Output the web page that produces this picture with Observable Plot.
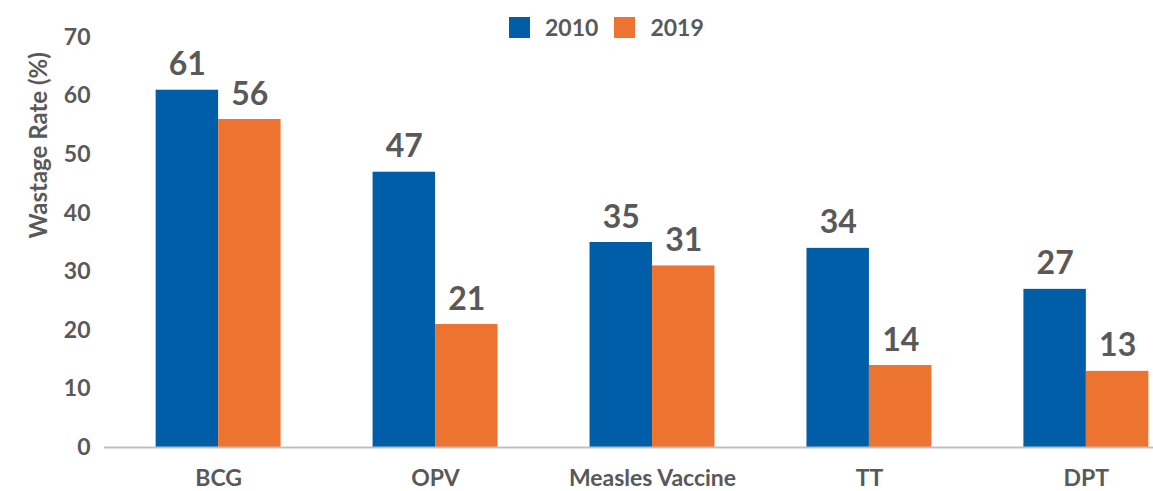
<!DOCTYPE html>
<html><head><meta charset="utf-8">
<script src="https://cdn.jsdelivr.net/npm/d3@7"></script>
<script src="https://cdn.jsdelivr.net/npm/@observablehq/plot@0.6"></script>
<style>
body{margin:0;background:#fff;}
#wrap{position:relative;width:1153px;height:491px;font-family:Lato,sans-serif;}
#legend{position:absolute;top:16px;left:509px;display:flex;align-items:center;font-weight:bold;font-size:23px;color:#595959;line-height:22px;}
#legend .sw{width:21px;height:21px;margin-right:15px;}
#legend .lab{margin-right:16px;}
</style></head>
<body><div id="wrap"><div id="legend"></div></div>
<script>
const categories = ["BCG", "OPV", "Measles Vaccine", "TT", "DPT"];
const years = ["2010", "2019"];
const values2010 = [61, 47, 35, 34, 27];
const values2019 = [56, 21, 31, 14, 13];
const colors = ["#005EA8", "#ED7331"];
const yTicks = [0, 10, 20, 30, 40, 50, 60, 70];

const data = categories.flatMap((c, i) => [
  {cat: c, year: years[0], value: values2010[i]},
  {cat: c, year: years[1], value: values2019[i]}
]);
const d2010 = data.filter(d => d.year === years[0]);
const d2019 = data.filter(d => d.year === years[1]);

const chart = Plot.plot({
  width: 1153, height: 491,
  marginLeft: 104, marginRight: 0, marginTop: 37, marginBottom: 44,
  style: {fontFamily: "Lato, sans-serif", fontWeight: "bold", color: "#595959", fontSize: "22px", background: "#fff"},
  x: {type: "band", domain: categories, range: [104, 1200], paddingInner: 0.424, paddingOuter: 0.238, round: false},
  y: {domain: [0, 70]},
  color: {domain: years, range: colors},
  marks: [
    Plot.barY(d2010, {x: "cat", y: "value", fill: "year", insetRight: 62.5}),
    Plot.barY(d2019, {x: "cat", y: "value", fill: "year", insetLeft: 62.5}),
    Plot.text(d2010, {x: "cat", y: "value", text: d => String(d.value), dx: -31.25, dy: -15, lineAnchor: "bottom", fontSize: 32, fill: "#595959"}),
    Plot.text(d2019, {x: "cat", y: "value", text: d => String(d.value), dx: 31.25, dy: -15, lineAnchor: "bottom", fontSize: 32, fill: "#595959"}),
    Plot.ruleY([0], {stroke: "#BFBFBF", strokeWidth: 2}),
    Plot.axisX({tickSize: 0, tickPadding: 22, label: null, fontSize: 23}),
    Plot.axisY({ticks: yTicks, tickSize: 0, tickPadding: 14, label: null, fontSize: 23}),
    Plot.text(["Wastage Rate (%)"], {frameAnchor: "left", dx: -65, dy: -4, rotate: -90, fontSize: 24, fill: "#595959"})
  ]
});
document.getElementById("wrap").prepend(chart);
chart.style.position = "absolute"; chart.style.left = "0"; chart.style.top = "0";

const legend = document.getElementById("legend");
years.forEach((y, i) => {
  const sw = document.createElement("div"); sw.className = "sw"; sw.style.background = colors[i];
  const lab = document.createElement("span"); lab.className = "lab"; lab.textContent = y;
  legend.append(sw, lab);
});
</script>
</body></html>
